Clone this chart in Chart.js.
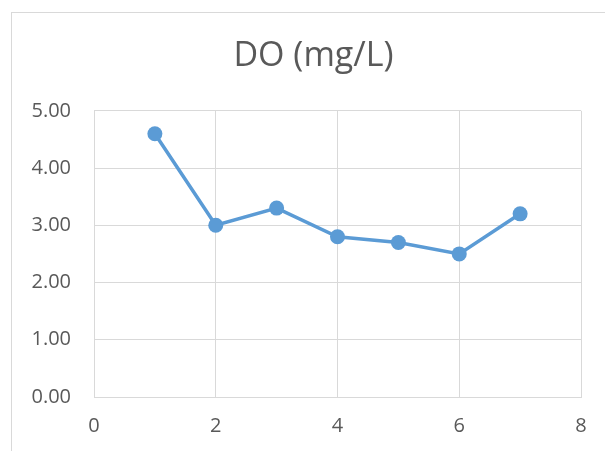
<!DOCTYPE html>
<html>
<head>
<meta charset="utf-8">
<script src="https://cdn.jsdelivr.net/npm/chart.js@4/dist/chart.umd.min.js"></script>
<style>
  html, body { margin: 0; padding: 0; background: #fff; overflow: hidden; }
  #wrap { position: relative; width: 605px; height: 451px; }
</style>
</head>
<body>
<div id="wrap"><canvas id="chart" width="605" height="451"></canvas></div>
<script>
  'use strict';

  const samples = [1, 2, 3, 4, 5, 6, 7];
  const doValues = [4.6, 3.0, 3.3, 2.8, 2.7, 2.5, 3.2];
  const xTicks = [0, 2, 4, 6, 8];
  const yTicks = [0, 1, 2, 3, 4, 5];

  const gridColor = '#D9D9D9';
  const textColor = '#595959';
  const lineColor = '#5B9BD5';

  // outer chart frame, like the Excel chart object border
  const framePlugin = {
    id: 'frame',
    beforeDraw(chart) {
      const ctx = chart.ctx;
      ctx.save();
      ctx.strokeStyle = gridColor;
      ctx.lineWidth = 1;
      ctx.strokeRect(11.5, 12.5, 700, 500);
      ctx.restore();
    },
    afterLayout(chart) {
      // Excel centres the title a bit right of the canvas middle
      if (chart.titleBlock) chart.titleBlock.left += 46;
    }
  };

  const points = samples.map((x, i) => ({ x: x, y: doValues[i] }));

  new Chart(document.getElementById('chart'), {
    type: 'scatter',
    data: {
      datasets: [{
        label: 'DO (mg/L)',
        data: points,
        showLine: true,
        borderColor: lineColor,
        backgroundColor: lineColor,
        borderWidth: 3.5,
        pointRadius: 7.5,
        pointBorderWidth: 0,
        pointBackgroundColor: lineColor
      }]
    },
    options: {
      responsive: false,
      animation: false,
      layout: { padding: { left: 0, right: 24, top: 0, bottom: 0 } },
      plugins: {
        legend: { display: false },
        tooltip: { enabled: false },
        title: {
          display: true,
          text: 'DO (mg/L)',
          color: textColor,
          font: { family: 'Open Sans', size: 34, weight: 'normal' },
          padding: { top: 36, bottom: 34 }
        }
      },
      scales: {
        x: {
          type: 'linear',
          min: xTicks[0],
          max: xTicks[xTicks.length - 1],
          afterBuildTicks: (scale) => { scale.ticks = xTicks.map(v => ({ value: v })); },
          afterFit: (scale) => { scale.height = 54; },
          ticks: {
            color: textColor,
            font: { family: 'Open Sans', size: 20 },
            padding: 17,
            maxRotation: 0,
            callback: (v) => String(v)
          },
          grid: { color: gridColor, drawTicks: false },
          border: { color: gridColor }
        },
        y: {
          type: 'linear',
          min: yTicks[0],
          max: yTicks[yTicks.length - 1],
          afterBuildTicks: (scale) => { scale.ticks = yTicks.map(v => ({ value: v })); },
          afterFit: (scale) => { scale.width = 94; },
          ticks: {
            color: textColor,
            font: { family: 'Open Sans', size: 20 },
            padding: 23,
            callback: (v) => Number(v).toFixed(2)
          },
          grid: { color: gridColor, drawTicks: false },
          border: { color: gridColor }
        }
      }
    },
    plugins: [framePlugin]
  });
</script>
</body>
</html>
